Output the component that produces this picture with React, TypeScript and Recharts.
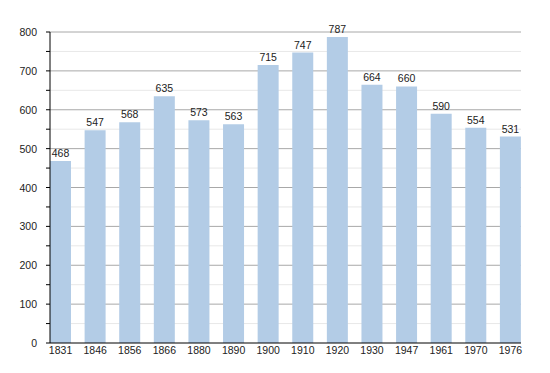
import { BarChart, Bar, XAxis, YAxis, CartesianGrid, LabelList } from 'recharts'

const years = ['1831', '1846', '1856', '1866', '1880', '1890', '1900', '1910', '1920', '1930', '1947', '1961', '1970', '1976']
const population = [468, 547, 568, 635, 573, 563, 715, 747, 787, 664, 660, 590, 554, 531]
const yTicks = [0, 50, 100, 150, 200, 250, 300, 350, 400, 450, 500, 550, 600, 650, 700, 750, 800]
const majorLines = [100, 200, 300, 400, 500, 600, 700, 800]
const minorLines = [50, 150, 250, 350, 450, 550, 650, 750]

const data = years.map((year, i) => ({ year, value: population[i] }))

const font = '"Liberation Sans", Arial, sans-serif'

function YTick(props: any) {
  const { x, y, payload } = props
  if (payload.value % 100 !== 0) return null
  return (
    <text x={x} y={y} dy={4} textAnchor="end" fontSize={10.5} fill="#222" fontFamily={font}>
      {payload.value}
    </text>
  )
}

export default function App() {
  return (
    <div style={{ position: 'absolute', left: 0, top: 0, width: 550, height: 373, background: '#fff' }}>
      <BarChart
        width={550}
        height={373}
        data={data}
        margin={{ top: 32, right: 29, bottom: 0, left: 0 }}
        barCategoryGap={6.75}
      >
        <CartesianGrid vertical={false} horizontalValues={minorLines} stroke="#e8e8e8" />
        <CartesianGrid vertical={false} horizontalValues={majorLines} stroke="#a8a8a8" />
        <XAxis
          dataKey="year"
          height={30}
          tickLine={false}
          tickSize={0}
          tickMargin={4}
          interval={0}
          padding={{ left: -6.75, right: -6.75 }}
          axisLine={{ stroke: '#000' }}
          tick={{ fontSize: 10.5, fill: '#222', fontFamily: font }}
        />
        <YAxis
          width={50}
          domain={[0, 800]}
          ticks={yTicks}
          interval={0}
          tickSize={4}
          tickMargin={9}
          axisLine={{ stroke: '#000' }}
          tickLine={{ stroke: '#000' }}
          tick={<YTick />}
        />
        <Bar dataKey="value" fill="#b3cce6" isAnimationActive={false}>
          <LabelList dataKey="value" position="top" offset={4} fontSize={10.5} fill="#222" fontFamily={font} />
        </Bar>
      </BarChart>
    </div>
  )
}
